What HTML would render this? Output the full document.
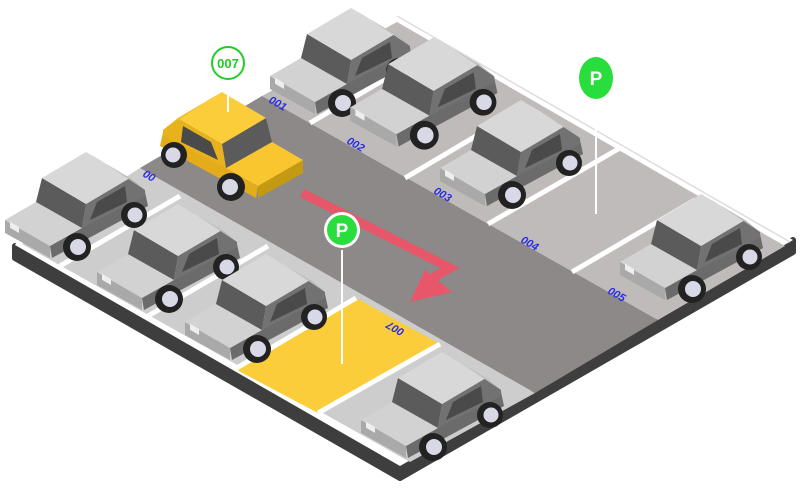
<!DOCTYPE html>
<html><head><meta charset="utf-8"><style>
html,body{margin:0;padding:0;background:#fff;width:800px;height:488px;overflow:hidden}
svg{display:block}
text{font-family:"Liberation Sans",sans-serif}
.lb{fill:#2a2ee0;font-size:11px;font-weight:bold;font-style:italic}
</style></head><body>
<svg width="800" height="488" viewBox="0 0 800 488" xmlns="http://www.w3.org/2000/svg">
<defs>
<g id="car">
  <polygon points="5,80 50,106 50,118 5,93" fill="#a9a9a9"/>
  <polygon points="50,106 145,52 148,66 52,118" fill="#6b6b6b"/>
  <polygon points="5,80 50,106 82,88 36,62" fill="#d2d2d2"/>
  <polygon points="36,62 82,88 86,64 42,38" fill="#5b5b5b"/>
  <polygon points="82,88 86,64 130,38 145,50 145,56" fill="#727272"/>
  <polygon points="90,80 97,62 125,46 127,62" fill="#4a4a4a"/>
  <polygon points="42,38 86,64 130,38 86,12" fill="#d8d8d8"/>
  <polygon points="86,12 130,38 145,50 100,20" fill="#bdbdbd"/>
  <rect x="10" y="84" width="9" height="6" fill="#eee" transform="skewY(30) translate(0,-8)"/>
  <circle cx="77" cy="107" r="14" fill="#222"/><circle cx="78" cy="107" r="8" fill="#d8d8e6"/>
  <circle cx="134" cy="75" r="13" fill="#222"/><circle cx="135" cy="75" r="7.5" fill="#d8d8e6"/>
</g>
<g id="ycar">
  <polygon points="5,80 50,106 50,118 5,93" fill="#c49a12"/>
  <polygon points="50,106 145,52 148,66 52,118" fill="#e3ac1a"/>
  <polygon points="5,80 50,106 82,88 36,62" fill="#f9c630"/>
  <polygon points="36,62 82,88 86,64 42,38" fill="#5b5b5b"/>
  <polygon points="82,88 86,64 130,38 145,50 145,56" fill="#e8b21e"/>
  <polygon points="90,80 97,62 125,46 127,62" fill="#4a4a4a"/>
  <polygon points="42,38 86,64 130,38 86,12" fill="#fccd3a"/>
  <polygon points="86,12 130,38 145,50 100,20" fill="#efbb25"/>
  <circle cx="77" cy="107" r="14" fill="#222"/><circle cx="78" cy="107" r="8" fill="#d8d8e6"/>
  <circle cx="134" cy="75" r="13" fill="#222"/><circle cx="135" cy="75" r="7.5" fill="#d8d8e6"/>
</g>
</defs>
<!-- base shadow -->
<polygon points="15,258 400,478 793,252 793,240 400,466 15,246" fill="#3e3e3e" stroke="#3e3e3e" stroke-width="6" stroke-linejoin="round"/>
<!-- platform -->
<polygon points="15,245 400,466 793,240 397,14 20,236" fill="#fff"/>
<!-- upper strip -->
<polygon points="262,96 658,320 785,246 397,22" fill="#bebbba"/>
<!-- lower strip -->
<polygon points="140,168 535,393 410,462 22,244" fill="#cdcdcd"/>
<!-- yellow spot -->
<polygon points="235,369 318,413 440,344 356,298" fill="#fccd3a"/>
<!-- road -->
<polygon points="140,168 262,96 658,320 535,393" fill="#8c8988"/>
<!-- dividers lower -->
<g stroke="#fff" stroke-width="5">
<line x1="60" y1="266" x2="180" y2="196"/>
<line x1="148" y1="316" x2="268" y2="246"/>
<line x1="235" y1="369" x2="356" y2="298"/>
<line x1="318" y1="413" x2="440" y2="344"/>
<!-- dividers upper -->
<line x1="310" y1="123" x2="435" y2="50"/>
<line x1="405" y1="178" x2="520" y2="110"/>
<line x1="488" y1="224" x2="620" y2="148"/>
<line x1="572" y1="272" x2="695" y2="200"/>
</g>
<line x1="397" y1="16" x2="790" y2="242" stroke="#ddd" stroke-width="1.5"/>
<!-- labels -->
<text class="lb" transform="translate(268,102) rotate(30)">001</text>
<text class="lb" transform="translate(346,143) rotate(30)">002</text>
<text class="lb" transform="translate(433,193) rotate(30)">003</text>
<text class="lb" transform="translate(520,242) rotate(30)">004</text>
<text class="lb" transform="translate(607,293) rotate(30)">005</text>
<text class="lb" transform="translate(142,176) rotate(30)">00</text>
<text class="lb" transform="translate(405,330) rotate(210)">007</text>
<!-- red arrow -->
<polyline points="302,193 450,268 425,282" fill="none" stroke="#e8566a" stroke-width="9" stroke-linejoin="miter"/>
<polygon points="410,302 452,292 425,270" fill="#e8566a"/>
<!-- cars -->
<use href="#car" transform="translate(265,-4)"/>
<use href="#car" transform="translate(345,25) scale(1.03)"/>
<use href="#car" transform="translate(435,88)"/>
<use href="#car" transform="translate(615,182)"/>
<use href="#car" transform="translate(0,140)"/>
<use href="#car" transform="translate(92,192)"/>
<use href="#car" transform="translate(180,242)"/>
<use href="#car" transform="translate(356,340)"/>
<use href="#ycar" transform="translate(308,80) scale(-1,1)"/>
<!-- pins -->
<line x1="228" y1="80" x2="228" y2="112" stroke="#fff" stroke-width="2"/>
<circle cx="228" cy="63" r="16" fill="#fff" stroke="#22cc22" stroke-width="2"/>
<text x="228" y="68" text-anchor="middle" font-size="13" font-weight="bold" fill="#22cc22">007</text>
<line x1="342" y1="250" x2="342" y2="364" stroke="#fff" stroke-width="2"/>
<circle cx="342" cy="230" r="18" fill="#fff"/>
<circle cx="342" cy="230" r="15" fill="#28dd3c"/>
<text x="342" y="237" text-anchor="middle" font-size="19" font-weight="bold" fill="#fff">P</text>
<line x1="596" y1="105" x2="596" y2="214" stroke="#fff" stroke-width="2"/>
<ellipse cx="596" cy="78" rx="17" ry="21" fill="#28dd3c"/>
<text x="596" y="85" text-anchor="middle" font-size="19" font-weight="bold" fill="#fff">P</text>
</svg>
</body></html>
